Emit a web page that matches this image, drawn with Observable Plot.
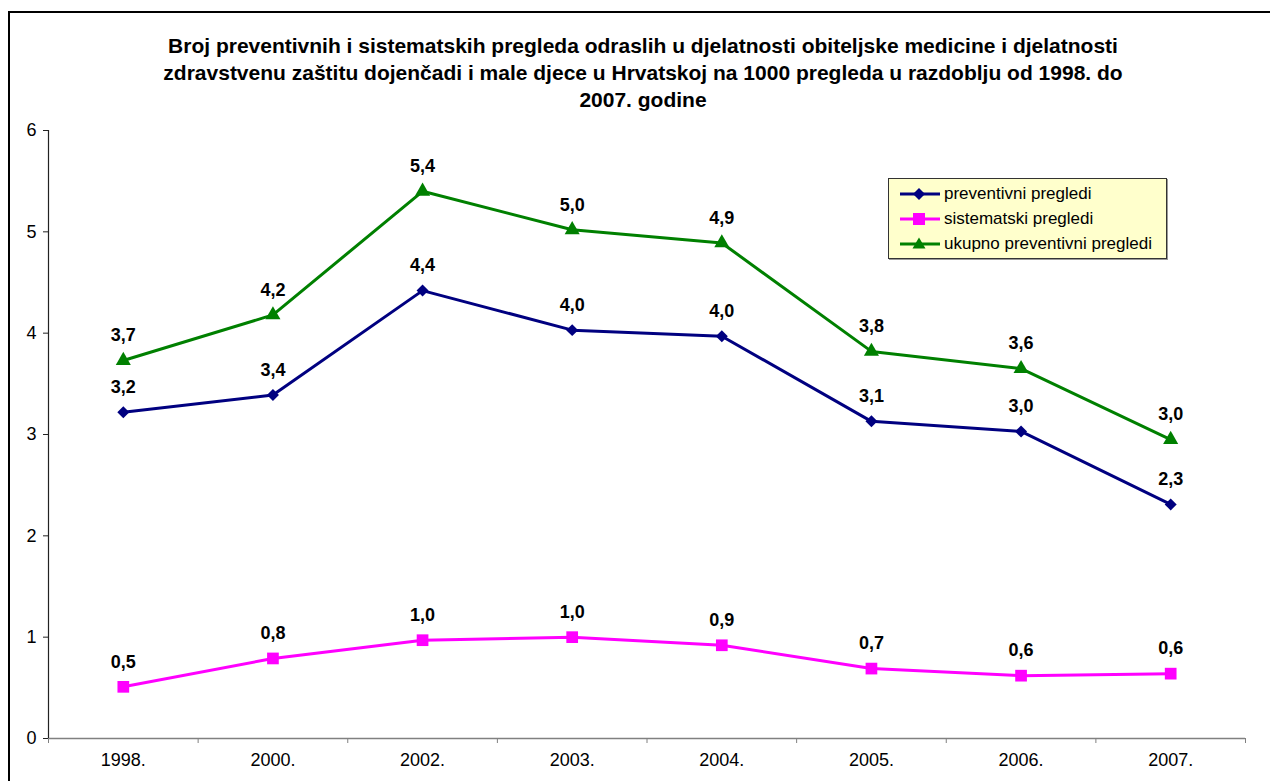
<!DOCTYPE html>
<html>
<head>
<meta charset="utf-8">
<script src="https://cdn.jsdelivr.net/npm/d3@7"></script>
<script src="https://cdn.jsdelivr.net/npm/@observablehq/plot@0.6"></script>
<style>
  html, body { margin: 0; padding: 0; background: #fff; overflow: hidden; }
  body { width: 1270px; height: 781px; position: relative; font-family: "Liberation Sans", Arial, sans-serif; }
  #frame { position: absolute; left: 8px; top: 11px; width: 1300px; height: 800px;
           border-left: 2px solid #000; border-top: 2px solid #000; }
  #title { position: absolute; left: 0; top: 32px; width: 1286px; text-align: center;
           font-weight: bold; font-size: 21px; line-height: 27px; color: #000; }
  #chart { position: absolute; left: 0; top: 110px; }
  #legend { position: absolute; left: 888px; top: 178px; width: 277px; height: 79px;
            background: #FFFFCC; border: 1px solid #333; box-shadow: 1px 1px 0 #999;
            font-size: 17px; color: #000; }
  .row { position: absolute; left: 10px; height: 20px; display: flex; align-items: center; white-space: nowrap; }
  .row svg { margin-right: 3px; }
</style>
</head>
<body>
<div id="frame"></div>
<div id="title">Broj preventivnih i sistematskih pregleda odraslih u djelatnosti obiteljske medicine i djelatnosti<br>zdravstvenu zaštitu dojenčadi i male djece u Hrvatskoj na 1000 pregleda u razdoblju od 1998. do<br>2007. godine</div>
<div id="chart"></div>
<div id="legend"></div>
<script>
const years = ["1998.", "2000.", "2002.", "2003.", "2004.", "2005.", "2006.", "2007."];
const preventivni = [3.22, 3.39, 4.42, 4.03, 3.97, 3.13, 3.03, 2.31];
const sistematski = [0.51, 0.79, 0.97, 1.00, 0.92, 0.69, 0.62, 0.64];
const ukupno = [3.73, 4.18, 5.40, 5.02, 4.89, 3.82, 3.65, 2.95];
const preventivniLabels = ["3,2", "3,4", "4,4", "4,0", "4,0", "3,1", "3,0", "2,3"];
const sistematskiLabels = ["0,5", "0,8", "1,0", "1,0", "0,9", "0,7", "0,6", "0,6"];
const ukupnoLabels = ["3,7", "4,2", "5,4", "5,0", "4,9", "3,8", "3,6", "3,0"];
const seriesNames = ["preventivni pregledi", "sistematski pregledi", "ukupno preventivni pregledi"];
const yTicks = [0, 1, 2, 3, 4, 5, 6];

const colors = ["#000080", "#FF00FF", "#008000"];
const symbols = ["diamond2", "square", "triangle"];
const radii = [5.4, 6.6, 5.6];

const seriesValues = [preventivni, sistematski, ukupno];
const seriesLabels = [preventivniLabels, sistematskiLabels, ukupnoLabels];
const rows = seriesValues.map((vals, s) => vals.map((v, i) => ({s, i, v, label: seriesLabels[s][i]})));
const idx = years.map((_, i) => i);
const bounds = d3.range(years.length + 1).map(i => i - 0.5);

const marks = [
  Plot.ruleY([0], {stroke: "#808080", strokeWidth: 1.5}),
  Plot.axisX(bounds, {tickSize: 5, tickFormat: () => "", stroke: "#808080", label: null}),
  Plot.axisX(idx, {tickSize: 0, tickPadding: 15, tickFormat: i => years[i], fontSize: 18, fill: "#000", label: null}),
  Plot.ruleX([-0.5], {y1: 0, y2: 6, stroke: "#222", strokeWidth: 1.2}),
  Plot.axisY(yTicks, {tickSize: 5, tickPadding: 7, tickFormat: d => String(d), fontSize: 18, fill: "#000", stroke: "#222", label: null})
];
rows.forEach((data, s) => {
  marks.push(Plot.line(data, {x: "i", y: "v", stroke: colors[s], strokeWidth: 3}));
  marks.push(Plot.dot(data, {x: "i", y: "v", symbol: () => symbols[s], fill: colors[s], r: radii[s], stroke: "none"}));
  marks.push(Plot.text(data, {x: "i", y: "v", text: "label", dy: -25, fontSize: 18, fontWeight: "bold", fill: "#000"}));
});

const plot = Plot.plot({
  width: 1270,
  height: 668,
  marginTop: 20,
  marginBottom: 40,
  marginLeft: 48,
  marginRight: 25,
  style: {fontFamily: "Liberation Sans, Arial, sans-serif", background: "transparent", overflow: "visible"},
  x: {type: "linear", domain: [-0.5, years.length - 0.5], axis: null},
  y: {domain: [0, 6], axis: null},
  symbol: {type: "identity"},
  marks
});
document.getElementById("chart").appendChild(plot);

// Legend
const legend = document.getElementById("legend");
const shapes = [
  '<path d="M20 4 L26 10 L20 16 L14 10 Z" fill="#000080"/>',
  '<rect x="14" y="4" width="12" height="12" fill="#FF00FF"/>',
  '<path d="M20 3.5 L26.5 14.5 L13.5 14.5 Z" fill="#008000"/>'
];
seriesNames.forEach((name, s) => {
  const row = document.createElement("div");
  row.className = "row";
  row.style.top = (5 + s * 25) + "px";
  row.innerHTML = `<svg width="42" height="20"><line x1="1" y1="10" x2="41" y2="10" stroke="${colors[s]}" stroke-width="3"/>${shapes[s]}</svg><span>${name}</span>`;
  legend.appendChild(row);
});
</script>
</body>
</html>
